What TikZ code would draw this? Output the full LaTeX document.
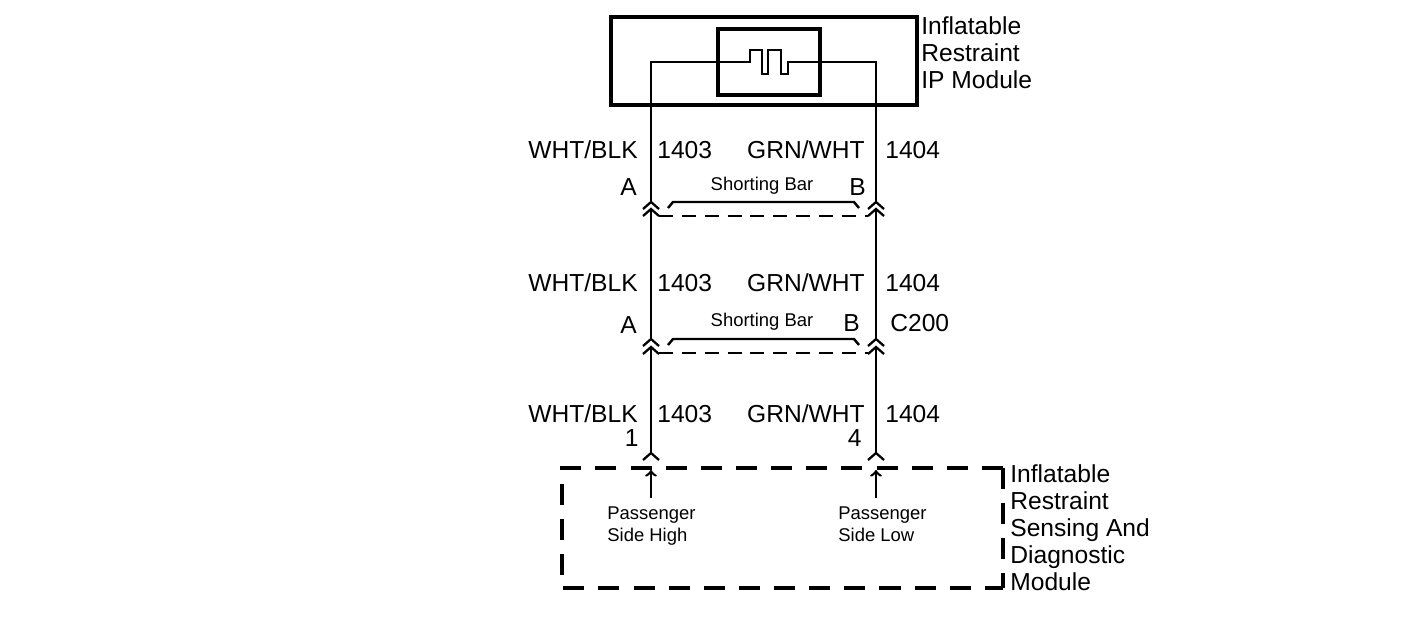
\documentclass[tikz,border=0pt]{standalone}
\usepackage{fontspec}
\setmainfont{Liberation Sans}
\usetikzlibrary{positioning}
\tikzstyle{wire} = [line width=1.4pt]
\tikzstyle{lbl} = [font=\fontsize{14}{15.4}\selectfont, inner sep=0pt]
\tikzstyle{small} = [font=\fontsize{10.5}{12.5}\selectfont, inner sep=0pt, align=left]
\tikzstyle{chev} = [line width=1.3pt]
\begin{document}
\begin{tikzpicture}[x=0.02cm, y=-0.02cm]
	\useasboundingbox (0,0) rectangle (1426,637);

	% IP module
	\draw[line width=2.4pt] (611,17) rectangle (917,105);
	\draw[line width=2.2pt] (718,29) rectangle (820,95);
	\node[lbl, anchor=north west, align=left] (ipm) at (921,16) {Inflatable\\Restraint\\IP Module};
	\coordinate (t1) at (651,62);
	\coordinate (t2) at (876,62);
	\draw[wire] (651,202) -- (t1) -- (750,62) -- (750,50) -- (762,50) -- (762,74) -- (768,74) -- (768,50) -- (781,50) -- (781,74) -- (788,74) -- (788,62) -- (t2) -- (876,202);

	% connectors
	\foreach \up/\lo/\dy in {202/209/216, 339/347/353} {
		\foreach \x in {651,876} {
			\draw[chev] (\x-8,\up+7) -- (\x,\up) -- (\x+8,\up+7);
			\draw[chev] (\x-8,\lo+7) -- (\x,\lo) -- (\x+8,\lo+7);
		}
		\draw[line width=1.2pt, dash pattern=on 8pt off 5pt] (659,\dy) -- (868,\dy);
		\draw[line width=1.4pt] (668,\up+6) -- (673,\up) -- (854,\up) -- (859,\up+6);
	}
	\draw[wire] (651,209) -- (651,339);
	\draw[wire] (876,209) -- (876,339);
	\draw[wire] (651,347) -- (651,453);
	\draw[wire] (876,347) -- (876,453);
	\node[small] (sb1) at (762,186) {Shorting Bar};
	\node[small] (sb2) at (762,322) {Shorting Bar};
	\node[lbl, anchor=east] (a1) at (637,187) {A};
	\node[lbl, anchor=west] (b1) at (849,187) {B};
	\node[lbl, anchor=east] (a2) at (637,325) {A};
	\node[lbl, anchor=west] (b2) at (843,323) {B};
	\node[lbl, anchor=west] (c200) at (890,323) {C200};

	% wire colours
	\foreach \y/\n in {150/1, 283/2, 414/3} {
		\node[lbl, anchor=east] (wb\n) at (638,\y) {WHT/BLK};
		\node[lbl, anchor=west] (n\n) at (657,\y) {1403};
		\node[lbl, anchor=east] (gw\n) at (865,\y) {GRN/WHT};
		\node[lbl, anchor=west] (m\n) at (885,\y) {1404};
	}
	\node[lbl, anchor=east] (p1) at (639,438) {1};
	\node[lbl, anchor=east] (p4) at (862,438) {4};

	% SDM
	\foreach \x in {651,876} {
		\draw[chev] (\x-8,460) -- (\x,453) -- (\x+8,460);
		\draw[wire, ->, >=to] (\x,498) -- (\x,470);
	}
	\draw[line width=2.2pt, dash pattern=on 12pt off 8pt] (1003,468) -- (562,468) -- (562,588) -- (1003,588);
	\draw[line width=2.2pt, dash pattern=on 12pt off 8pt] (1003,468) -- (1003,588);
	\node[lbl, anchor=north west, align=left] (sdm) at (1010,464) {Inflatable\\Restraint\\Sensing And\\Diagnostic\\Module};
	\node[small, anchor=north west] (psh) at (607,506) {Passenger\\Side High};
	\node[small, anchor=north west] (psl) at (838,506) {Passenger\\Side Low};
\end{tikzpicture}
\end{document}
